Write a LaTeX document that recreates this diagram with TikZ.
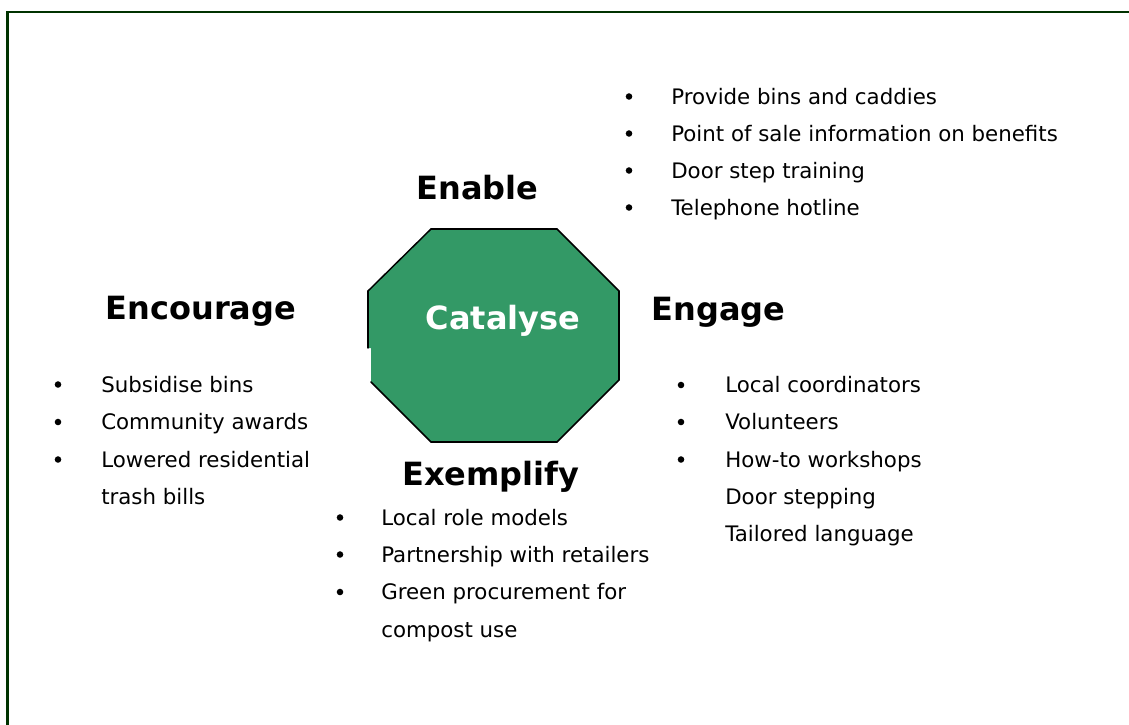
\documentclass[tikz,border=0pt]{standalone}
\usepackage{fontspec}
\usepackage{tkz-euclide}
\setmainfont{DejaVu Sans}
\definecolor{catgreen}{RGB}{51,153,102}
\definecolor{framegreen}{RGB}{0,51,0}

\begin{document}
\begin{tikzpicture}[x=0.75pt, y=-0.75pt,
    head/.style={anchor=base, inner sep=0pt, font=\fontsize{24}{28}\selectfont\bfseries},
    item/.style={anchor=base west, inner sep=0pt, font=\fontsize{16}{19}\selectfont},
    dot/.style={circle, fill=black, inner sep=0pt, minimum size=4.9pt}]
    \useasboundingbox (0,0) rectangle (1129,725);
    \draw[framegreen, line width=1.9pt] (7.7,725) |- (1129,12.2);
    % the octagon
    \tkzDefPoints{368/291/A,431/229/B,557/229/C,619/291/D,619/380/E,557/442/F,431/442/G,371/382/H,371/348/I,368/348/J}
    \tkzFillPolygon[color=catgreen](A,...,J)
    \tkzDrawSegments[line width=1.1pt](J,A A,B B,C C,D D,E E,F F,G G,H)
    \node[head, white] (catalyse) at (503,329.5) {Catalyse};
    % Enable
    \node[head] (enable) at (477.5,199.5) {Enable};
    \node[dot] (enable-b1) at (629,96.5) {};
    \node[item] (enable-1) at (671,104) {Provide bins and caddies};
    \node[dot] (enable-b2) at (629,133.5) {};
    \node[item] (enable-2) at (671,141) {Point of sale information on benefits};
    \node[dot] (enable-b3) at (629,170.5) {};
    \node[item] (enable-3) at (671,178) {Door step training};
    \node[dot] (enable-b4) at (629,207.5) {};
    \node[item] (enable-4) at (671,215) {Telephone hotline};
    % Encourage
    \node[head] (encourage) at (201,319.5) {Encourage};
    \node[dot] (encourage-b1) at (58,384.5) {};
    \node[item] (encourage-1) at (101,392) {Subsidise bins};
    \node[dot] (encourage-b2) at (58,422) {};
    \node[item] (encourage-2) at (101,429.5) {Community awards};
    \node[dot] (encourage-b3) at (58,459.5) {};
    \node[item] (encourage-3) at (101,467) {Lowered residential};
    \node[item] (encourage-4) at (101,504.5) {trash bills};
    % Engage
    \node[head] (engage) at (718.5,320.5) {Engage};
    \node[dot] (engage-b1) at (681,385) {};
    \node[item] (engage-1) at (725,392.5) {Local coordinators};
    \node[dot] (engage-b2) at (681,422) {};
    \node[item] (engage-2) at (725,429.5) {Volunteers};
    \node[dot] (engage-b3) at (681,459.5) {};
    \node[item] (engage-3) at (725,467) {How-to workshops};
    \node[item] (engage-4) at (725,504) {Door stepping};
    \node[item] (engage-5) at (725,541) {Tailored language};
    % Exemplify
    \node[head] (exemplify) at (491,485.5) {Exemplify};
    \node[dot] (exemplify-b1) at (340,517.5) {};
    \node[item] (exemplify-1) at (381,525) {Local role models};
    \node[dot] (exemplify-b2) at (340,554.5) {};
    \node[item] (exemplify-2) at (381,562) {Partnership with retailers};
    \node[dot] (exemplify-b3) at (340,592) {};
    \node[item] (exemplify-3) at (381,599.5) {Green procurement for};
    \node[item] (exemplify-4) at (381,637) {compost use};
\end{tikzpicture}
\end{document}
